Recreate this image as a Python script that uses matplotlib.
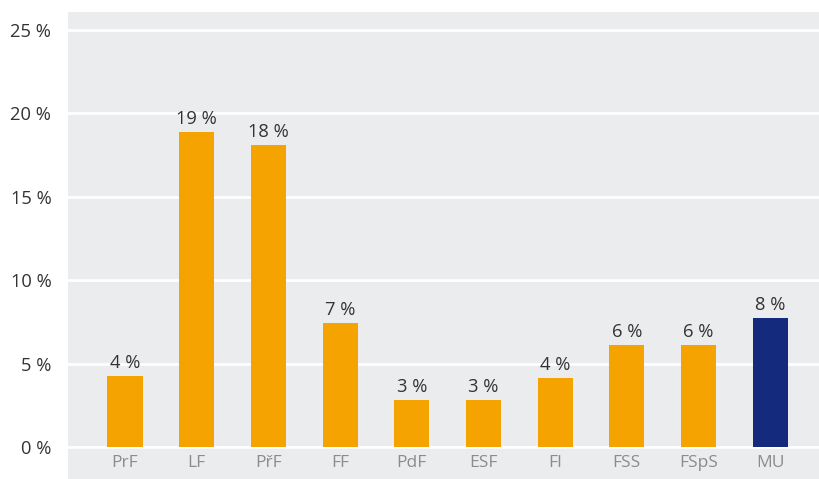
import matplotlib
matplotlib.use("Agg")
import matplotlib.pyplot as plt
from matplotlib.patches import Rectangle

plt.rcParams['font.family'] = ['Open Sans', 'DejaVu Sans']

faculties = ["PrF", "LF", "PřF", "FF", "PdF", "ESF", "FI", "FSS", "FSpS", "MU"]
values = [4.25, 18.85, 18.1, 7.4, 2.8, 2.8, 4.15, 6.1, 6.1, 7.7]
labels = ["4 %", "19 %", "18 %", "7 %", "3 %", "3 %", "4 %", "6 %", "6 %", "8 %"]
yticks = [0, 5, 10, 15, 20, 25]

orange = "#f4a300"
navy = "#142a7c"
bg = "#ebecee"
colors = [orange] * 9 + [navy]

W, H = 819, 479
fig = plt.figure(figsize=(W / 100, H / 100), dpi=100)

# grey panel behind axes + tick label strip
fig.patches.append(Rectangle((68 / W, 0), (W - 68) / W, (H - 12) / H,
                             transform=fig.transFigure, facecolor=bg,
                             edgecolor="none", zorder=-5))

ax = fig.add_axes([68 / W, (H - 447) / H, (W - 68) / W, (447 - 12) / H])
ax.set_facecolor("none")
ax.set_zorder(2)

x = list(range(len(faculties)))
ax.bar(x, values, width=0.49, color=colors, zorder=3)

for xi, v, lab in zip(x, values, labels):
    ax.annotate(lab, (xi, v), xytext=(0, 3), textcoords="offset points",
                ha="center", va="bottom", fontsize=13.2, color="#333333")

ax.set_xlim(-0.795, 9.68)
ax.set_ylim(0, 26.05)
ax.set_yticks(yticks)
ax.set_yticklabels([f"{t} %" for t in yticks], fontsize=13.2, color="#333333")
ax.set_xticks(x)
ax.set_xticklabels(faculties, fontsize=12.5, color="#8c8c8c")
ax.tick_params(axis="y", length=0, pad=12)
ax.tick_params(axis="x", length=0, pad=6)
for s in ax.spines.values():
    s.set_visible(False)
ax.yaxis.grid(True, color="white", linewidth=2, zorder=1)
ax.set_axisbelow(True)
# keep the 0 line visible at the bottom edge
for gl in ax.yaxis.get_gridlines():
    gl.set_clip_on(False)

fig.savefig("out.png", dpi=100)
